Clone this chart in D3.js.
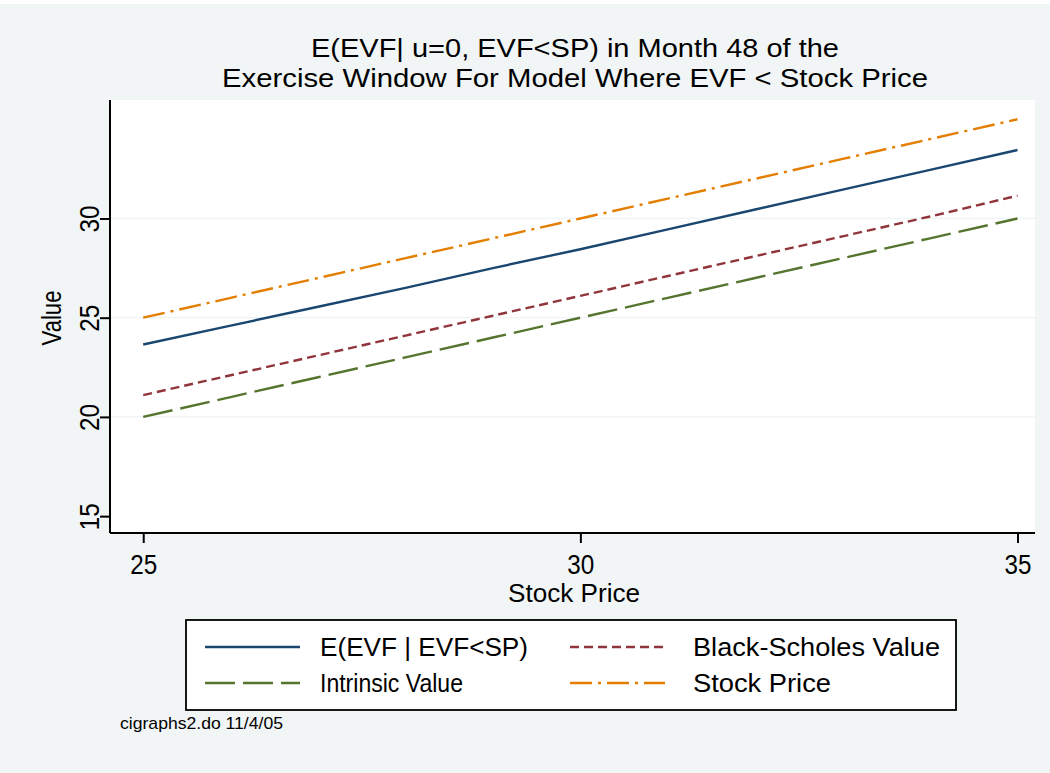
<!DOCTYPE html>
<html>
<head>
<meta charset="utf-8">
<script src="https://cdn.jsdelivr.net/npm/d3@7"></script>
<style>
  html, body { margin: 0; padding: 0; background: #ffffff; }
  svg { display: block; }
  text { font-family: "Liberation Sans", Arial, Helvetica, sans-serif; fill: #000; }
</style>
</head>
<body>
<script>
// Stock prices on the horizontal axis
const stockPrices = [25, 26, 27, 28, 29, 30, 31, 32, 33, 34, 35];
// Expected exercise value, conditional on EVF < SP
const expectedEVF = [23.65, 24.6, 25.55, 26.5, 27.5, 28.45, 29.45, 30.45, 31.45, 32.45, 33.45];
// Black-Scholes option value
const blackScholes = [21.1, 22.1, 23.1, 24.1, 25.1, 26.1, 27.1, 28.1, 29.1, 30.1, 31.15];
// Intrinsic value (stock price less strike)
const intrinsic = [20, 21, 22, 23, 24, 25, 26, 27, 28, 29, 30];
// Stock price itself
const stockLine = [25, 26, 27, 28, 29, 30, 31, 32, 33, 34, 35];

const xTicks = [25, 30, 35];
const yTicks = [15, 20, 25, 30];
const gridTicks = [20, 25, 30];

const titleLines = ["E(EVF| u=0, EVF<SP) in Month 48 of the",
                    "Exercise Window For Model Where EVF < Stock Price"];
const seriesNames = ["E(EVF | EVF<SP)", "Black-Scholes Value", "Intrinsic Value", "Stock Price"];

const W = 1050, H = 773;
const plot = { left: 110, right: 1035, top: 100, bottom: 533 };

const svg = d3.select("body").append("svg").attr("width", W).attr("height", H);

// Outer graph region
svg.append("rect").attr("x", 0).attr("y", 4).attr("width", W).attr("height", H - 4)
  .attr("fill", "#f1f5f5");

// Plot region
svg.append("rect")
  .attr("x", plot.left).attr("y", plot.top)
  .attr("width", plot.right - plot.left).attr("height", plot.bottom - plot.top)
  .attr("fill", "#ffffff");

const x = d3.scaleLinear().domain([24.62, 35.2]).range([plot.left, plot.right]);
const y = d3.scaleLinear().domain([14.15, 35.97]).range([plot.bottom, plot.top]);

// Squeeze a text element to a target width (narrow Helvetica look)
function fit(sel, w) {
  sel.attr("textLength", w).attr("lengthAdjust", "spacingAndGlyphs");
  return sel;
}

// Gridlines
svg.append("g").selectAll("line").data(gridTicks).join("line")
  .attr("x1", plot.left).attr("x2", plot.right)
  .attr("y1", d => y(d)).attr("y2", d => y(d))
  .attr("stroke", "#eef3f3").attr("stroke-width", 1.2);

// Series lines
const series = [
  { name: seriesNames[0], values: expectedEVF, color: "#1a476f", dash: null },
  { name: seriesNames[1], values: blackScholes, color: "#90353b", dash: "9,5" },
  { name: seriesNames[2], values: intrinsic, color: "#55752f", dash: "30,8" },
  { name: seriesNames[3], values: stockLine, color: "#e37e00", dash: "22,6,3,6" }
];

const line = d3.line().x((d, i) => x(stockPrices[i])).y(d => y(d));

svg.append("g").selectAll("path").data(series).join("path")
  .attr("d", d => line(d.values))
  .attr("fill", "none")
  .attr("stroke", d => d.color)
  .attr("stroke-width", 2.4)
  .attr("stroke-dasharray", d => d.dash);

// Y axis
const yAxis = d3.axisLeft(y).tickValues(yTicks).tickSize(10).tickPadding(0).tickFormat(d3.format("d"));
const gy = svg.append("g").attr("transform", `translate(${plot.left},0)`).call(yAxis);
gy.select(".domain").attr("d", `M0,${plot.top}V${plot.bottom}`).attr("stroke", "#000").attr("stroke-width", 2);
gy.selectAll(".tick line").attr("stroke", "#000").attr("stroke-width", 2);
gy.selectAll(".tick text").remove();
gy.selectAll(".tick").append("text")
  .attr("transform", "translate(-11,0) rotate(-90)")
  .attr("text-anchor", "middle")
  .attr("font-size", 28)
  .attr("fill", "#000")
  .attr("textLength", 27).attr("lengthAdjust", "spacingAndGlyphs")
  .text(d => d);

// X axis
const xAxis = d3.axisBottom(x).tickValues(xTicks).tickSize(10).tickPadding(0).tickFormat(d3.format("d"));
const gx = svg.append("g").attr("transform", `translate(0,${plot.bottom})`).call(xAxis);
gx.select(".domain").attr("d", `M${plot.left},0H${plot.right}`).attr("stroke", "#000").attr("stroke-width", 2);
gx.selectAll(".tick line").attr("stroke", "#000").attr("stroke-width", 2);
gx.selectAll(".tick text").remove();
gx.selectAll(".tick").append("text")
  .attr("y", 41)
  .attr("text-anchor", "middle")
  .attr("font-size", 27)
  .attr("fill", "#000")
  .attr("textLength", 27).attr("lengthAdjust", "spacingAndGlyphs")
  .text(d => d);

// Axis titles
fit(svg.append("text").attr("x", 574).attr("y", 602).attr("text-anchor", "middle")
  .attr("font-size", 25).text("Stock Price"), 132);
fit(svg.append("text").attr("transform", "translate(61,318) rotate(-90)")
  .attr("text-anchor", "middle").attr("font-size", 27).text("Value"), 55);

// Title
fit(svg.append("text").attr("x", 575).attr("y", 57).attr("text-anchor", "middle")
  .attr("font-size", 25).text(titleLines[0]), 528);
fit(svg.append("text").attr("x", 575).attr("y", 87).attr("text-anchor", "middle")
  .attr("font-size", 25).text(titleLines[1]), 706);

// Legend
const legend = svg.append("g");
legend.append("rect").attr("x", 186).attr("y", 620).attr("width", 770).attr("height", 90)
  .attr("fill", "#ffffff").attr("stroke", "#000").attr("stroke-width", 1.8);

const slots = [
  { sx: 205, tx: 320, ty: 647 },
  { sx: 570, tx: 693, ty: 647 },
  { sx: 205, tx: 320, ty: 683 },
  { sx: 570, tx: 693, ty: 683 }
];
const textWidths = [208, 247, 143, 138];

series.forEach((s, i) => {
  const p = slots[i];
  legend.append("line")
    .attr("x1", p.sx).attr("x2", p.sx + 95)
    .attr("y1", p.ty).attr("y2", p.ty)
    .attr("stroke", s.color).attr("stroke-width", 2.4)
    .attr("stroke-dasharray", s.dash);
  fit(legend.append("text").attr("x", p.tx).attr("y", p.ty + 9)
    .attr("font-size", 25).text(s.name), textWidths[i]);
});

// Note
fit(svg.append("text").attr("x", 120).attr("y", 729).attr("font-size", 17)
  .text("cigraphs2.do 11/4/05"), 163);
</script>
</body>
</html>
